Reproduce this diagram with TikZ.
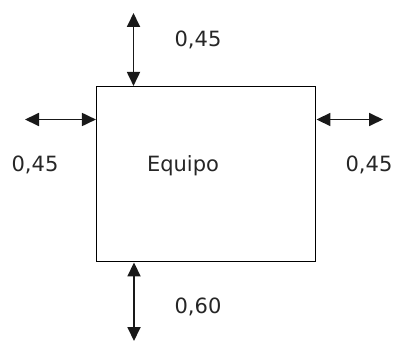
\documentclass[tikz,border=0pt]{standalone}
\usepackage{fontspec}
\setmainfont{DejaVu Sans}
\usetikzlibrary{arrows.meta, positioning}

\begin{document}
\begin{tikzpicture}[
x=1pt, y=-1pt,
box/.style={draw, rectangle, line width=1.5pt, minimum width=219pt, minimum height=175pt, inner sep=0pt},
label/.style={anchor=base, inner sep=0pt, text=black!85, font=\fontsize{21}{24}\selectfont},
arrow/.style={{Triangle[length=14pt, width=13pt]}-{Triangle[length=14pt, width=13pt]}, line width=1.8pt, black!90}
]
\useasboundingbox (0,0) rectangle (395,342);

\node[box] (equipo) at (206.2,174.2) {};

\node[label] (name) at (183,171.5) {Equipo};

\node[label] (top) at (198,47) {0,45};
\node[label] (left) at (35,171.5) {0,45};
\node[label] (right) at (369,171.5) {0,45};
\node[label] (bottom) at (198,313) {0,60};

\coordinate (topend) at (133.5,13);
\coordinate (leftend) at (25,119.5);
\coordinate (rightend) at (383,119.5);
\coordinate (bottomend) at (134,341);

\draw[arrow] (topend) -- (topend |- equipo.north);
\draw[arrow] (leftend) -- (leftend -| equipo.west);
\draw[arrow] (rightend) -- (rightend -| equipo.east);
\draw[arrow] (bottomend |- equipo.south) -- (bottomend);

\end{tikzpicture}
\end{document}
